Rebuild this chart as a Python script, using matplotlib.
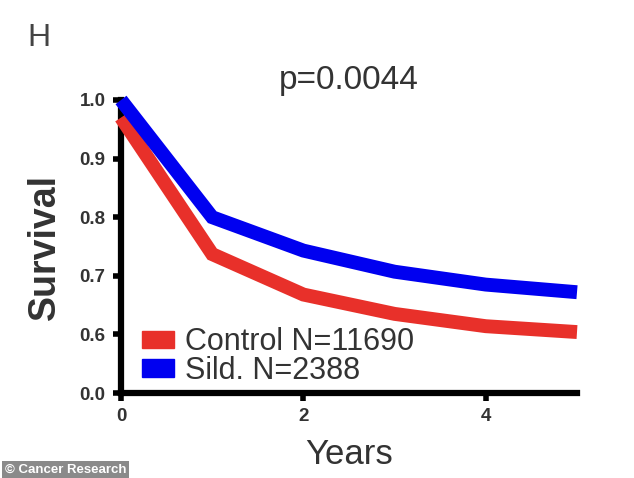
import matplotlib
matplotlib.use("Agg")
import matplotlib.pyplot as plt
from matplotlib.patches import Patch

plt.rcParams['font.family'] = ['Liberation Sans', 'DejaVu Sans']

years = [0, 1, 2, 3, 4, 5]
control = [0.97, 0.737, 0.668, 0.635, 0.614, 0.604]
sild = [1.0, 0.80, 0.743, 0.707, 0.685, 0.672]

control_label = 'Control N=11690'
sild_label = 'Sild. N=2388'
p_text = 'p=0.0044'

y_ticks = [0.5, 0.6, 0.7, 0.8, 0.9, 1.0]
y_labels = ['0.0', '0.6', '0.7', '0.8', '0.9', '1.0']
x_ticks = [0, 2, 4]

red = '#e8302a'
blue = '#0000f0'
txt = '#333333'

fig = plt.figure(figsize=(6.34, 4.78), dpi=100)
ax = fig.add_axes([121 / 634, 1 - 393 / 478, 456 / 634, 293 / 478])

ax.plot(years, control, color=red, lw=10, solid_joinstyle='miter', solid_capstyle='butt', clip_on=False, zorder=3)
ax.plot(years, sild, color=blue, lw=10, solid_joinstyle='miter', solid_capstyle='butt', clip_on=False, zorder=4)

ax.set_xlim(0, 5)
ax.set_ylim(0.5, 1.0)
ax.set_xticks(x_ticks)
ax.set_yticks(y_ticks)
ax.set_yticklabels(y_labels)

for side in ['top', 'right']:
    ax.spines[side].set_visible(False)
for side in ['left', 'bottom']:
    ax.spines[side].set_linewidth(4.5)
    ax.spines[side].set_color('black')
    ax.spines[side].set_capstyle('projecting')

ax.tick_params(length=6, width=4, color='black', labelsize=13.5, labelcolor=txt, pad=5)
for lab in ax.get_xticklabels() + ax.get_yticklabels():
    lab.set_fontweight('bold')

ax.set_xlabel('Years', fontsize=25, color=txt, labelpad=9)
ax.set_ylabel('Survival', fontsize=27, fontweight='bold', color=txt, labelpad=12)

ax.text(0.5, 1.015, p_text, transform=ax.transAxes, ha='center', va='bottom', fontsize=24, color=txt)

handles = [Patch(color=red, label=control_label), Patch(color=blue, label=sild_label)]
ax.legend(handles=handles, loc='lower left', bbox_to_anchor=(0.0, -0.048), frameon=False,
          fontsize=22, labelcolor=txt, handlelength=1.05, handleheight=0.5,
          handletextpad=0.35, labelspacing=-0.05, borderpad=0.2)

fig.text(27 / 634, 1 - 46 / 478, 'H', fontsize=23, color='#444444')

fig.text(5 / 634, 1 - 470 / 478, '\u00a9 Cancer Research', fontsize=9.5, fontweight='bold',
         color='white', va='center', ha='left',
         bbox=dict(facecolor='#8a8a8a', edgecolor='none', boxstyle='square,pad=0.2'))

fig.savefig('out.png', dpi=100)
